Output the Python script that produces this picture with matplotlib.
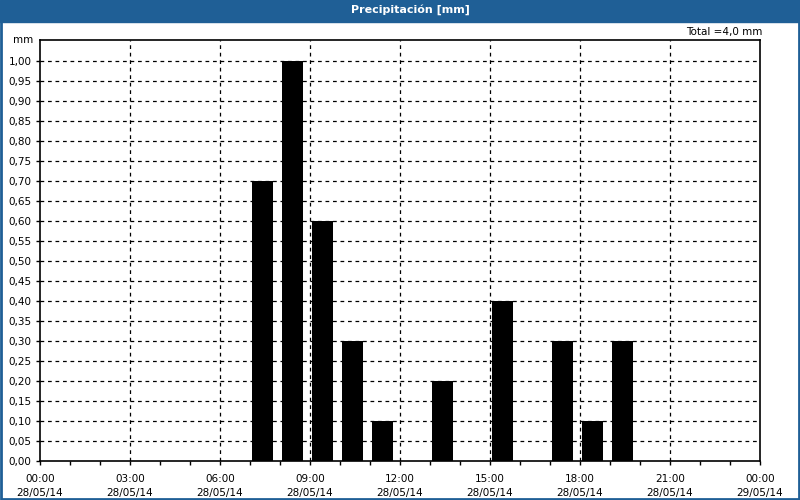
import numpy as np
import matplotlib
matplotlib.use('Agg')
from matplotlib import pyplot as plt
from matplotlib.patches import Rectangle

# datos de precipitacion (hora de inicio, mm)
horas = [7, 8, 9, 10, 11, 13, 15, 17, 18, 19]
lluvia = [0.7, 1.0, 0.6, 0.3, 0.1, 0.2, 0.4, 0.3, 0.1, 0.3]
xticks = [0, 3, 6, 9, 12, 15, 18, 21, 24]
xlabels = ['00:00\n28/05/14', '03:00\n28/05/14', '06:00\n28/05/14', '09:00\n28/05/14',
           '12:00\n28/05/14', '15:00\n28/05/14', '18:00\n28/05/14', '21:00\n28/05/14',
           '00:00\n29/05/14']
yticks = np.arange(0, 21) * 0.05
titulo = 'Precipitación [mm]'
total = 'Total =4,0 mm'

azul = '#1f5f96'
plt.rcParams['font.family'] = ['DejaVu Sans']

fig = plt.figure(figsize=(8, 5), dpi=100)
fig.patch.set_facecolor('white')

# barra de titulo y borde
fig.patches.append(Rectangle((0, 1 - 22/500), 1, 22/500, transform=fig.transFigure,
                             color=azul, zorder=0))
fig.patches.append(Rectangle((1/800, 1/500), 798/800, 498/500, transform=fig.transFigure,
                             fill=False, edgecolor=azul, linewidth=2, zorder=5))
fig.text(0.5125, 1 - 10/500, titulo, color='white', fontweight='bold', fontsize=8,
         ha='center', va='center')
fig.text(762/800, 1 - 32/500, total, fontsize=7.5, ha='right', va='center')

ax = fig.add_axes([40/800, 39/500, 720/800, 421/500])
ax.bar(np.array(horas) + 0.08, lluvia, width=0.7, align='edge', color='black', zorder=1)

ax.set_xlim(0, 24)
ax.set_ylim(0, 1.0525)
ax.set_xticks(xticks)
ax.set_xticklabels(xlabels, fontsize=7.5, linespacing=1.6)
ax.set_xticks(np.arange(0, 25), minor=True)
ax.set_yticks(yticks)
ax.set_yticklabels(['%.2f' % v for v in yticks], fontsize=7.5)
ax.yaxis.set_label_coords(0, 0)
ax.text(-0.01, 1.0525, 'mm', transform=ax.get_yaxis_transform(), fontsize=7.5,
        ha='right', va='center')
ax.set_yticklabels([('%.2f' % v).replace('.', ',') for v in yticks], fontsize=7.5)

ax.tick_params(axis='both', which='both', direction='out', length=3, width=1, color='black', pad=3)
ax.tick_params(axis='x', which='major', pad=6)

for x in xticks[1:-1]:
    ax.axvline(x, color='black', linestyle=(0, (3, 3)), linewidth=0.9, zorder=2)
for y in yticks[1:]:
    ax.axhline(y, color='black', linestyle=(0, (3, 3)), linewidth=0.9, zorder=0.5)

for s in ax.spines.values():
    s.set_linewidth(1.2)
    s.set_zorder(3)

fig.savefig('out.png', dpi=100)
